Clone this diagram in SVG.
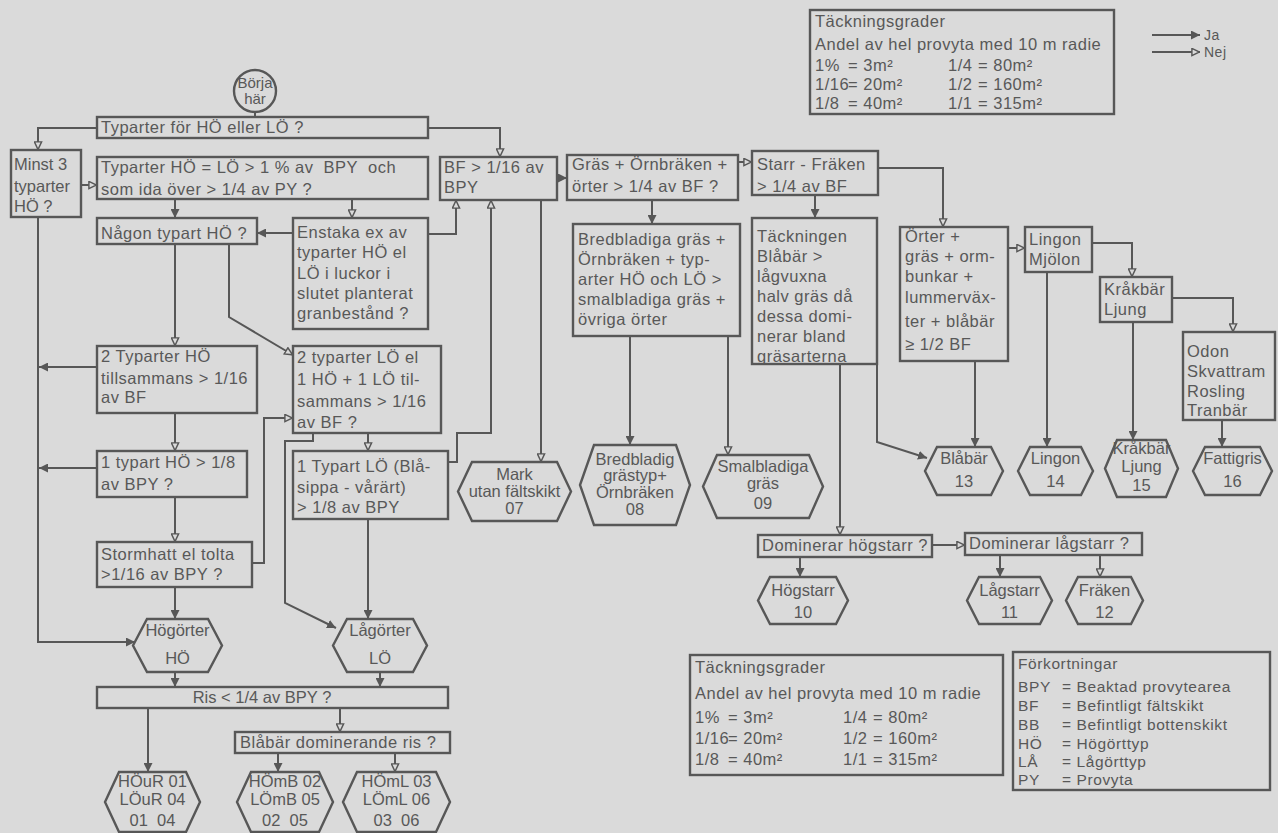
<svg xmlns="http://www.w3.org/2000/svg" width="1278" height="833" viewBox="0 0 1278 833">
<defs>
<style>
.bg{fill:#dadada}
.box{fill:none;stroke:#575757;stroke-width:2.4}
.hex{fill:none;stroke:#575757;stroke-width:2.4}
.ln{fill:none;stroke:#575757;stroke-width:2}
.ja{marker-end:url(#ja)}
.nej{marker-end:url(#nej)}
text{font-family:"Liberation Sans",Arial,sans-serif;font-size:16.5px;fill:#585858;letter-spacing:0.5px}
.c{text-anchor:middle;letter-spacing:0}
.s{font-size:15px}
.lg{font-size:15.5px;letter-spacing:0.6px}
</style>
<marker id="ja" viewBox="0 0 10 10" refX="10" refY="5" markerWidth="9" markerHeight="9" markerUnits="userSpaceOnUse" orient="auto">
<path d="M0,0 L10,5 L0,10 z" fill="#575757"/>
</marker>
<marker id="nej" viewBox="0 0 10 10" refX="10" refY="5" markerWidth="9" markerHeight="9" markerUnits="userSpaceOnUse" orient="auto">
<path d="M1,1 L9.5,5 L1,9 z" fill="#dadada" stroke="#575757" stroke-width="1.6"/>
</marker>
</defs>
<rect class="bg" x="0" y="0" width="1278" height="833"/>

<g id="connectors">
<path class="ln" d="M255 112 V117"/>
<path class="ln nej" d="M97 128 H38 V150"/>
<path class="ln nej" d="M428 128 H500 V157"/>
<path class="ln nej" d="M81 185 H97"/>
<path class="ln ja" d="M175 199 V218"/>
<path class="ln nej" d="M352 199 V218"/>
<path class="ln ja" d="M293 233 H257"/>
<path class="ln nej" d="M428 234 H456 V200"/>
<path class="ln nej" d="M448 462 H457 V433 H491 V200"/>
<path class="ln nej" d="M541 200 V462"/>
<path class="ln ja" d="M557 178 H567"/>
<path class="ln nej" d="M738 162 H752"/>
<path class="ln ja" d="M652 200 V224"/>
<path class="ln ja" d="M630 336 V445"/>
<path class="ln nej" d="M728 336 V455"/>
<path class="ln ja" d="M815 195 V218"/>
<path class="ln nej" d="M878 168 H943 V227"/>
<path class="ln nej" d="M1008 248 H1025"/>
<path class="ln nej" d="M1092 243 H1132 V277"/>
<path class="ln nej" d="M1172 298 H1233 V332"/>
<path class="ln ja" d="M975 361 V447"/>
<path class="ln ja" d="M1047 272 V447"/>
<path class="ln ja" d="M1133 322 V440"/>
<path class="ln ja" d="M1222 420 V447"/>
<path class="ln ja" d="M877 364 V442 L927 458"/>
<path class="ln nej" d="M840 364 V535"/>
<path class="ln ja" d="M800 557 V577"/>
<path class="ln nej" d="M932 545 H965"/>
<path class="ln ja" d="M1000 555 V577"/>
<path class="ln nej" d="M1100 555 V577"/>
<path class="ln nej" d="M175 244 V346"/>
<path class="ln nej" d="M229 244 V317 L293 355"/>
<path class="ln ja" d="M97 367 H39"/>
<path class="ln nej" d="M175 413 V451"/>
<path class="ln ja" d="M97 468 H39"/>
<path class="ln nej" d="M175 497 V542"/>
<path class="ln ja" d="M175 587 V619"/>
<path class="ln nej" d="M252 563 H264 V418 H293"/>
<path class="ln ja" d="M38 217 V642 H135"/>
<path class="ln nej" d="M368 433 V451"/>
<path class="ln ja" d="M313 433 V441 H285 V603 L336 628"/>
<path class="ln ja" d="M368 519 V619"/>
<path class="ln ja" d="M175 672 V687"/>
<path class="ln ja" d="M380 672 V687"/>
<path class="ln ja" d="M148 708 V772"/>
<path class="ln nej" d="M340 708 V732"/>
<path class="ln ja" d="M278 753 V772"/>
<path class="ln nej" d="M395 753 V772"/>
</g>

<g id="n-start">
<circle cx="255" cy="91" r="21" class="box"/>
<text class="c s" x="255" y="88">Börja</text>
<text class="c s" x="255" y="104">här</text>
</g>

<g id="n-typarter">
<rect class="box" x="97" y="117" width="331" height="21"/>
<text x="101" y="133">Typarter för HÖ eller LÖ ?</text>
</g>

<g id="n-minst3">
<rect class="box" x="11" y="150" width="70" height="67"/>
<text x="14" y="170" style="letter-spacing:0">Minst 3</text>
<text x="14" y="192" style="letter-spacing:0">typarter</text>
<text x="14" y="212" style="letter-spacing:0">HÖ ?</text>
</g>

<g id="n-hololo">
<rect class="box" x="97" y="157" width="331" height="42"/>
<text x="101" y="173" xml:space="preserve">Typarter HÖ = LÖ &gt; 1 % av  BPY  och</text>
<text x="101" y="195">som ida över &gt; 1/4 av PY ?</text>
</g>

<g id="n-nagon">
<rect class="box" x="97" y="218" width="160" height="26"/>
<text x="101" y="239">Någon typart HÖ ?</text>
</g>

<g id="n-enstaka">
<rect class="box" x="293" y="218" width="135" height="111"/>
<text x="297" y="238">Enstaka ex av</text>
<text x="297" y="258">typarter HÖ el</text>
<text x="297" y="279">LÖ i luckor i</text>
<text x="297" y="299">slutet planterat</text>
<text x="297" y="319">granbestånd ?</text>
</g>

<g id="n-bf">
<rect class="box" x="440" y="157" width="117" height="43"/>
<text x="444" y="173">BF &gt; 1/16 av</text>
<text x="444" y="193">BPY</text>
</g>

<g id="n-gras">
<rect class="box" x="567" y="155" width="171" height="45"/>
<text x="572" y="170">Gräs + Örnbräken +</text>
<text x="572" y="192">örter &gt; 1/4 av BF ?</text>
</g>

<g id="n-starr">
<rect class="box" x="752" y="151" width="126" height="44"/>
<text x="757" y="170">Starr - Fräken</text>
<text x="757" y="192">&gt; 1/4 av BF</text>
</g>

<g id="n-bred">
<rect class="box" x="573" y="224" width="167" height="112"/>
<text x="578" y="245">Bredbladiga gräs +</text>
<text x="578" y="265">Örnbräken + typ-</text>
<text x="578" y="285">arter HÖ och LÖ &gt;</text>
<text x="578" y="305">smalbladiga gräs +</text>
<text x="578" y="325">övriga örter</text>
</g>

<g id="n-tackningen">
<rect class="box" x="752" y="218" width="125" height="146"/>
<text x="757" y="242">Täckningen</text>
<text x="757" y="262">Blåbär &gt;</text>
<text x="757" y="282">lågvuxna</text>
<text x="757" y="302">halv gräs då</text>
<text x="757" y="322">dessa domi-</text>
<text x="757" y="342">nerar bland</text>
<text x="757" y="362">gräsarterna</text>
</g>

<g id="n-orter">
<rect class="box" x="900" y="227" width="108" height="134"/>
<text x="905" y="242">Örter +</text>
<text x="905" y="262">gräs + orm-</text>
<text x="905" y="282">bunkar +</text>
<text x="905" y="303">lummerväx-</text>
<text x="905" y="327">ter + blåbär</text>
<text x="905" y="350">≥ 1/2 BF</text>
</g>

<g id="n-lingon">
<rect class="box" x="1025" y="227" width="67" height="45"/>
<text x="1029" y="245">Lingon</text>
<text x="1029" y="265">Mjölon</text>
</g>

<g id="n-krakbar">
<rect class="box" x="1100" y="277" width="72" height="45"/>
<text x="1104" y="295">Kråkbär</text>
<text x="1104" y="315">Ljung</text>
</g>

<g id="n-odon">
<rect class="box" x="1183" y="332" width="92" height="88"/>
<text x="1187" y="357">Odon</text>
<text x="1187" y="377">Skvattram</text>
<text x="1187" y="397">Rosling</text>
<text x="1187" y="416">Tranbär</text>
</g>

<g id="n-2typho">
<rect class="box" x="97" y="346" width="160" height="67"/>
<text x="101" y="362">2 Typarter HÖ</text>
<text x="101" y="384">tillsammans &gt; 1/16</text>
<text x="101" y="403">av BF</text>
</g>

<g id="n-2typlo">
<rect class="box" x="293" y="346" width="148" height="87"/>
<text x="297" y="363">2 typarter LÖ el</text>
<text x="297" y="385">1 HÖ + 1 LÖ til-</text>
<text x="297" y="407">sammans &gt; 1/16</text>
<text x="297" y="428">av BF ?</text>
</g>

<g id="n-1typho">
<rect class="box" x="97" y="451" width="150" height="46"/>
<text x="101" y="468">1 typart HÖ &gt; 1/8</text>
<text x="101" y="490">av BPY ?</text>
</g>

<g id="n-stormhatt">
<rect class="box" x="97" y="542" width="155" height="45"/>
<text x="101" y="560">Stormhatt el tolta</text>
<text x="101" y="580">&gt;1/16 av BPY ?</text>
</g>

<g id="n-1typlo">
<rect class="box" x="293" y="451" width="155" height="68"/>
<text x="297" y="472">1 Typart LÖ (Blå-</text>
<text x="297" y="493">sippa - vårärt)</text>
<text x="297" y="513">&gt; 1/8 av BPY</text>
</g>

<g id="n-hogorter">
<polygon class="hex" points="133,645.5 147,619 208,619 222,645.5 208,672 147,672"/>
<text class="c" x="177.5" y="636">Högörter</text>
<text class="c" x="177.5" y="664">HÖ</text>
</g>

<g id="n-lagorter">
<polygon class="hex" points="333,645.5 347,619 413,619 427,645.5 413,672 347,672"/>
<text class="c" x="380" y="636">Lågörter</text>
<text class="c" x="380" y="664">LÖ</text>
</g>

<g id="n-ris">
<rect class="box" x="97" y="687" width="351" height="21"/>
<text class="c" x="262" y="703">Ris &lt; 1/4 av BPY ?</text>
</g>

<g id="n-blabardom">
<rect class="box" x="235" y="732" width="215" height="21"/>
<text x="240" y="748">Blåbär dominerande ris ?</text>
</g>

<g id="n-0104">
<polygon class="hex" points="105,802 119,772 186,772 200,802 186,832 119,832"/>
<text class="c" x="152.5" y="787">HÖuR 01</text>
<text class="c" x="152.5" y="805">LÖuR 04</text>
<text class="c" x="152.5" y="826" xml:space="preserve">01  04</text>
</g>

<g id="n-0205">
<polygon class="hex" points="237,802 251,772 319,772 333,802 319,832 251,832"/>
<text class="c" x="285" y="787">HÖmB 02</text>
<text class="c" x="285" y="805">LÖmB 05</text>
<text class="c" x="285" y="826" xml:space="preserve">02  05</text>
</g>

<g id="n-0306">
<polygon class="hex" points="343,802 357,772 436,772 450,802 436,832 357,832"/>
<text class="c" x="396.5" y="787">HÖmL 03</text>
<text class="c" x="396.5" y="805">LÖmL 06</text>
<text class="c" x="396.5" y="826" xml:space="preserve">03  06</text>
</g>

<g id="n-07">
<polygon class="hex" points="458,491.5 472,462 557,462 571,491.5 557,521 472,521"/>
<text class="c" x="514.5" y="480">Mark</text>
<text class="c" x="514.5" y="497">utan fältskikt</text>
<text class="c" x="514.5" y="514">07</text>
</g>

<g id="n-08">
<polygon class="hex" points="580,485 594,445 676,445 690,485 676,525 594,525"/>
<text class="c" x="635" y="465">Bredbladig</text>
<text class="c" x="635" y="481">grästyp+</text>
<text class="c" x="635" y="498">Örnbräken</text>
<text class="c" x="635" y="515">08</text>
</g>

<g id="n-09">
<polygon class="hex" points="703,486.5 717,455 809,455 823,486.5 809,518 717,518"/>
<text class="c" x="763" y="472">Smalbladiga</text>
<text class="c" x="763" y="489">gräs</text>
<text class="c" x="763" y="509">09</text>
</g>

<g id="n-13">
<polygon class="hex" points="925,471 937,447 991,447 1003,471 991,495 937,495"/>
<text class="c" x="964" y="464">Blåbär</text>
<text class="c" x="964" y="487">13</text>
</g>

<g id="n-14">
<polygon class="hex" points="1018,471 1030,447 1081,447 1093,471 1081,495 1030,495"/>
<text class="c" x="1055.5" y="464">Lingon</text>
<text class="c" x="1055.5" y="487">14</text>
</g>

<g id="n-15">
<polygon class="hex" points="1105,468.5 1117,440 1166,440 1178,468.5 1166,497 1117,497"/>
<text class="c" x="1141.5" y="454">Kråkbär</text>
<text class="c" x="1141.5" y="472">Ljung</text>
<text class="c" x="1141.5" y="491">15</text>
</g>

<g id="n-16">
<polygon class="hex" points="1193,471 1205,447 1260,447 1272,471 1260,495 1205,495"/>
<text class="c" x="1232.5" y="464">Fattigris</text>
<text class="c" x="1232.5" y="487">16</text>
</g>

<g id="n-domhog">
<rect class="box" x="758" y="535" width="174" height="22"/>
<text x="762" y="551">Dominerar högstarr ?</text>
</g>

<g id="n-domlag">
<rect class="box" x="965" y="533" width="177" height="22"/>
<text x="969" y="549">Dominerar lågstarr ?</text>
</g>

<g id="n-10">
<polygon class="hex" points="758,600.5 770,577 836,577 848,600.5 836,624 770,624"/>
<text class="c" x="803" y="596">Högstarr</text>
<text class="c" x="803" y="618">10</text>
</g>

<g id="n-11">
<polygon class="hex" points="967,600.5 979,577 1040,577 1052,600.5 1040,624 979,624"/>
<text class="c" x="1009.5" y="596">Lågstarr</text>
<text class="c" x="1009.5" y="618">11</text>
</g>

<g id="n-12">
<polygon class="hex" points="1066,600.5 1078,577 1131,577 1143,600.5 1131,624 1078,624"/>
<text class="c" x="1104.5" y="596">Fräken</text>
<text class="c" x="1104.5" y="618">12</text>
</g>

<g id="legend-top">
<rect class="box" x="810" y="10" width="304" height="104"/>
<text x="815" y="27">Täckningsgrader</text>
<text x="815" y="50">Andel av hel provyta med 10 m radie</text>
<text x="815" y="71">1%</text><text x="848" y="71">= 3m²</text>
<text x="815" y="90">1/16</text><text x="848" y="90">= 20m²</text>
<text x="815" y="109">1/8</text><text x="848" y="109">= 40m²</text>
<text x="948" y="71">1/4</text><text x="978" y="71">= 80m²</text>
<text x="948" y="90">1/2</text><text x="978" y="90">= 160m²</text>
<text x="948" y="109">1/1</text><text x="978" y="109">= 315m²</text>
</g>

<g id="legend-janej">
<path class="ln ja" d="M1152 35 H1200"/>
<path class="ln nej" d="M1152 52 H1200"/>
<text x="1204" y="40" style="font-size:14px">Ja</text>
<text x="1204" y="57" style="font-size:14px">Nej</text>
</g>

<g id="legend-bottom">
<rect class="box" x="690" y="655" width="313" height="120"/>
<text x="695" y="673">Täckningsgrader</text>
<text x="695" y="699">Andel av hel provyta med 10 m radie</text>
<text x="695" y="723">1%</text><text x="728" y="723">= 3m²</text>
<text x="695" y="744">1/16</text><text x="728" y="744">= 20m²</text>
<text x="695" y="765">1/8</text><text x="728" y="765">= 40m²</text>
<text x="843" y="723">1/4</text><text x="873" y="723">= 80m²</text>
<text x="843" y="744">1/2</text><text x="873" y="744">= 160m²</text>
<text x="843" y="765">1/1</text><text x="873" y="765">= 315m²</text>
</g>

<g id="legend-abbr">
<rect class="box" x="1013" y="652" width="257" height="138"/>
<text class="lg" x="1018" y="669">Förkortningar</text>
<text class="lg" x="1018" y="692">BPY</text><text class="lg" x="1062" y="692">= Beaktad provytearea</text>
<text class="lg" x="1018" y="711">BF</text><text class="lg" x="1062" y="711">= Befintligt fältskikt</text>
<text class="lg" x="1018" y="730">BB</text><text class="lg" x="1062" y="730">= Befintligt bottenskikt</text>
<text class="lg" x="1018" y="749">HÖ</text><text class="lg" x="1062" y="749">= Högörttyp</text>
<text class="lg" x="1018" y="767">LÅ</text><text class="lg" x="1062" y="767">= Lågörttyp</text>
<text class="lg" x="1018" y="785">PY</text><text class="lg" x="1062" y="785">= Provyta</text>
</g>
</svg>
